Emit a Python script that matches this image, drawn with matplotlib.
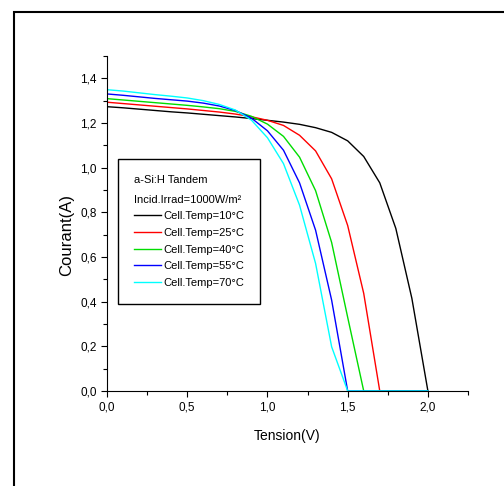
import numpy as np
import matplotlib
matplotlib.use("Agg")
import matplotlib.pyplot as plt
from matplotlib.patches import Rectangle
from matplotlib.ticker import MultipleLocator, FuncFormatter

plt.rcParams['font.family'] = ['Liberation Sans', 'DejaVu Sans']

# I-V data, a-Si:H tandem, 1000 W/m2
tension = [0.0, 0.1, 0.2, 0.3, 0.4, 0.5, 0.6, 0.7, 0.8, 0.9, 1.0,
           1.1, 1.2, 1.3, 1.4, 1.5, 1.6, 1.7, 1.8, 1.9, 2.0]
i_10 = [1.273, 1.268, 1.262, 1.256, 1.250, 1.245, 1.239, 1.233, 1.227, 1.220, 1.212,
        1.204, 1.194, 1.179, 1.158, 1.120, 1.050, 0.932, 0.728, 0.415, 0.0]
i_25 = [1.293, 1.287, 1.281, 1.275, 1.269, 1.263, 1.256, 1.249, 1.240, 1.228, 1.212,
        1.189, 1.145, 1.075, 0.950, 0.741, 0.437, 0.0, 0.0, 0.0, 0.0]
i_40 = [1.309, 1.303, 1.297, 1.291, 1.285, 1.279, 1.272, 1.264, 1.252, 1.230, 1.195,
        1.140, 1.047, 0.897, 0.665, 0.330, 0.0, 0.0, 0.0, 0.0, 0.0]
i_55 = [1.330, 1.324, 1.317, 1.310, 1.304, 1.298, 1.289, 1.276, 1.256, 1.222, 1.165,
        1.078, 0.932, 0.720, 0.407, 0.0, 0.0, 0.0, 0.0, 0.0, 0.0]
i_70 = [1.349, 1.343, 1.335, 1.327, 1.320, 1.312, 1.300, 1.283, 1.258, 1.213, 1.134,
        1.018, 0.832, 0.571, 0.198, 0.0, 0.0, 0.0, 0.0, 0.0, 0.0]

curves = [i_10, i_25, i_40, i_55, i_70]
labels = ['Cell.Temp=10°C', 'Cell.Temp=25°C', 'Cell.Temp=40°C',
          'Cell.Temp=55°C', 'Cell.Temp=70°C']
colors = ['black', 'red', '#00dd00', 'blue', 'cyan']

fig = plt.figure(figsize=(5.04, 4.86), dpi=100)
ax = fig.add_axes([0.2123, 0.1955, 0.7163, 0.6893])

for y, lab, c in zip(curves, labels, colors):
    ax.plot(tension, y, color=c, lw=1.0, label=lab)

ax.set_xlim(0, 2.25)
ax.set_ylim(0, 1.5)
ax.xaxis.set_major_locator(MultipleLocator(0.5))
ax.xaxis.set_minor_locator(MultipleLocator(0.25))
ax.yaxis.set_major_locator(MultipleLocator(0.2))
ax.yaxis.set_minor_locator(MultipleLocator(0.1))
comma = FuncFormatter(lambda v, p: f"{v:.1f}".replace('.', ','))
ax.xaxis.set_major_formatter(comma)
ax.yaxis.set_major_formatter(comma)
ax.tick_params(which='major', direction='out', length=4, width=0.8, labelsize=8.5)
ax.tick_params(which='minor', direction='out', length=3, width=0.8)
ax.spines['top'].set_visible(False)
ax.spines['right'].set_visible(False)

ax.set_xlabel('Tension(V)', fontsize=10, labelpad=11)
ax.set_ylabel('Courant(A)', fontsize=12)
ax.yaxis.set_label_coords(-0.092, 0.466)

leg = ax.legend(title='a-Si:H Tandem\nIncid.Irrad=1000W/m²', alignment='left',
                loc='upper left', bbox_to_anchor=(0.0305, 0.6925), borderaxespad=0,
                fancybox=False, edgecolor='black', framealpha=1, fontsize=8,
                title_fontsize=8, handlelength=2.4, handletextpad=0.2,
                labelspacing=0.6, borderpad=1.45)
leg.get_frame().set_linewidth(1.0)
leg.get_title().set_linespacing(2.2)

# outer frame
fig.add_artist(Rectangle((0.028, -0.1), 1.2, 1.075, transform=fig.transFigure,
                         fill=False, edgecolor='black', lw=1.5))

fig.savefig('out.png', dpi=100)
